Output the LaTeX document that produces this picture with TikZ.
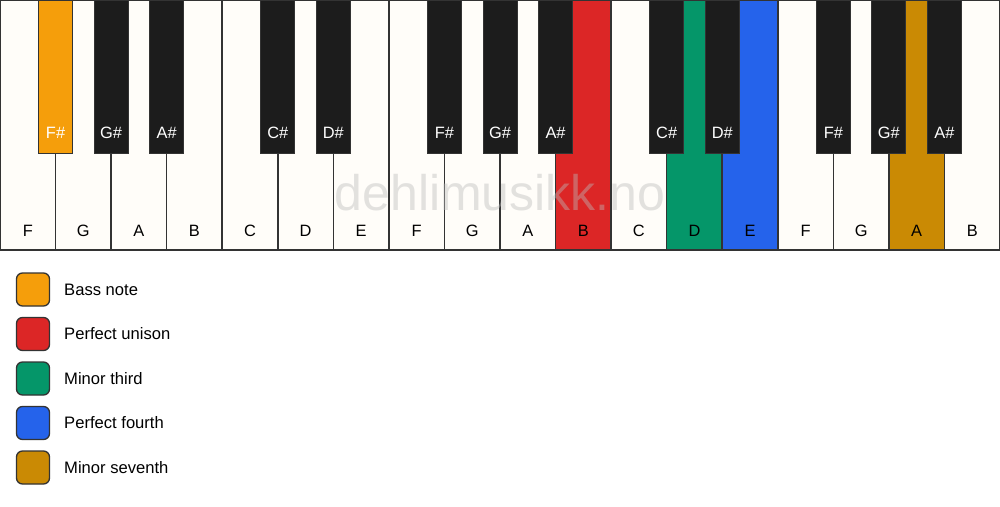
\documentclass[tikz,border=0pt]{standalone}
\usepackage{fontspec}
\setmainfont{Liberation Sans}
\definecolor{wkey}{HTML}{FFFDF9}
\definecolor{bkey}{HTML}{1C1C1C}
\definecolor{edgec}{HTML}{333333}
\definecolor{cbass}{HTML}{F59E0B}
\definecolor{cuni}{HTML}{DC2626}
\definecolor{cthird}{HTML}{059669}
\definecolor{cfourth}{HTML}{2563EB}
\definecolor{cseventh}{HTML}{CA8A04}
\definecolor{wmark}{HTML}{BBBBBB}
\tikzset{
  whitekey/.style={draw=edgec, line width=1.5pt, rectangle, anchor=north west,
    minimum width=55.556pt, minimum height=250pt, inner sep=0pt, outer sep=0pt},
  blackkey/.style={draw=edgec, line width=1pt, rectangle, anchor=north,
    minimum width=34pt, minimum height=153pt, inner sep=0pt, outer sep=0pt},
  keytext/.style={font=\fontsize{16.4}{19}\selectfont, inner sep=0pt, anchor=center},
  legbox/.style={draw=edgec, line width=1.3pt, rounded corners=6pt,
    minimum width=33pt, minimum height=33pt, inner sep=0pt},
  legtext/.style={font=\fontsize{16.6}{19}\selectfont, anchor=west, inner sep=0pt},
  watermark/.style={font=\fontsize{50}{58}\selectfont, text=wmark, text opacity=0.42}
}
\begin{document}
\begin{tikzpicture}[x=1pt,y=-1pt]
\useasboundingbox (0,0) rectangle (1000,506);
\fill[white] (0,0) rectangle (1000,506);
% white keys
\foreach \n/\c [count=\k from 0] in {F/wkey,G/wkey,A/wkey,B/wkey,C/wkey,D/wkey,E/wkey,F/wkey,G/wkey,A/wkey,B/cuni,C/wkey,D/cthird,E/cfourth,F/wkey,G/wkey,A/cseventh,B/wkey}{
  \node[whitekey, fill=\c] (w\k) at (\k*55.556,0) {};
  \node[keytext] (wl\k) at ([yshift=19pt]w\k.south) {\n};
}
% watermark
\node[watermark] (wm) at (500,193) {dehlimusikk.no};
% black keys
\foreach \b/\n/\c in {1/F/cbass,2/G/bkey,3/A/bkey,5/C/bkey,6/D/bkey,8/F/bkey,9/G/bkey,10/A/bkey,12/C/bkey,13/D/bkey,15/F/bkey,16/G/bkey,17/A/bkey}{
  \node[blackkey, fill=\c] (b\b) at (\b*55.556,0) {};
  \node[keytext, text=white] (bl\b) at ([yshift=20pt]b\b.south) {\n\#};
}
% legend
\foreach \c/\t [count=\k from 0] in {cbass/Bass note,cuni/Perfect unison,cthird/Minor third,cfourth/Perfect fourth,cseventh/Minor seventh}{
  \node[legbox, fill=\c] (lb\k) at (33,289.5+\k*44.5) {};
  \node[legtext] (lt\k) at (64,289.5+\k*44.5) {\t};
}
\end{tikzpicture}
\end{document}
